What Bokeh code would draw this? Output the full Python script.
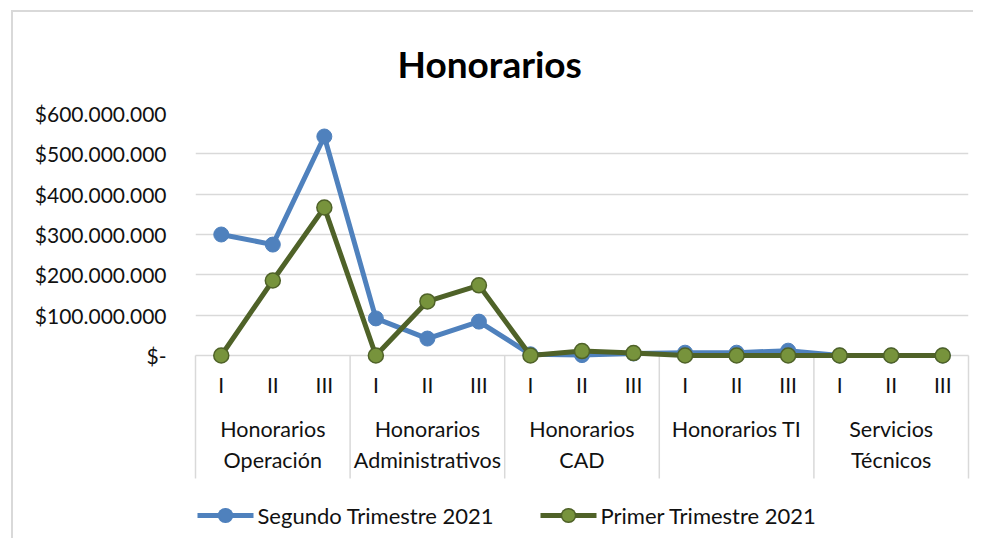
from bokeh.plotting import figure
from bokeh.models import FactorRange, FixedTicker, Title
from bokeh.core.properties import value
from bokeh.embed import file_html
from bokeh.resources import INLINE

# ---- data ----
groups = ["Honorarios\nOperación", "Honorarios\nAdministrativos", "Honorarios\nCAD",
          "Honorarios TI", "Servicios\nTécnicos"]
quarters = ["I", "II", "III"]
segundo_2021 = [300e6, 275e6, 543e6, 92e6, 42e6, 84e6, 3e6, 1e6, 5e6,
                7e6, 7e6, 12e6, 0, 0, 0]
primer_2021 = [0, 186e6, 367e6, 0, 134e6, 174e6, 0, 11e6, 6e6,
               0, 0, 0, 0, 0, 0]
y_ticks = [0, 100e6, 200e6, 300e6, 400e6, 500e6, 600e6]
y_tick_labels = ["$-", "$100.000.000", "$200.000.000", "$300.000.000",
                 "$400.000.000", "$500.000.000", "$600.000.000"]
series_names = ["Segundo Trimestre 2021", "Primer Trimestre 2021"]
title_text = "Honorarios"

factors = [(g, q) for g in groups for q in quarters]

FONT = "Lato"
BLUE = "#4f81bd"
GREEN_LINE = "#4f6228"
GREEN_FILL = "#77933c"
GRID = "#d9d9d9"
TXT = "#111111"

# ---- layout constants (pixels) ----
FRAME_W = 773
FRAME_H = 242
SEP_LEN_PX = 123          # group separators below the axis
LEG_Y_PX = 160            # legend row below the axis
LEG_X_PX = [2, 345]       # legend item starts (from frame left)
LEG_GLYPH_W = 56
LEG_LABEL_GAP = 4

Y_MAX = y_ticks[-1]
n_f = len(factors)
px_x = n_f / FRAME_W      # synthetic x units per pixel
px_y = Y_MAX / FRAME_H    # y units per pixel

p = figure(width=962, height=528,
           x_range=FactorRange(*factors, group_padding=0, range_padding=0),
           y_range=(0, Y_MAX), output_backend="svg", toolbar_location=None,
           min_border_left=182, min_border_right=7, min_border_top=101, min_border_bottom=185)
p.styles = {"margin-left": "11px", "margin-top": "10px",
            "border-left": "2px solid #d9d9d9", "border-top": "2px solid #d9d9d9"}
p.outline_line_color = None
p.background_fill_color = "white"
p.title.visible = False

t = Title(text=title_text, align="left", vertical_align="top", offset=202, text_font=FONT,
          text_font_size="37px", text_font_style="bold", text_color="black", standoff=52)
p.add_layout(t, "above")

# y axis
p.yaxis.ticker = FixedTicker(ticks=y_ticks)
p.yaxis.major_label_overrides = {int(v): s for v, s in zip(y_ticks, y_tick_labels)}
p.yaxis.axis_line_color = None
p.yaxis.major_tick_line_color = None
p.yaxis.minor_tick_line_color = None
p.yaxis.major_tick_out = 0
p.yaxis.major_tick_in = 0
p.yaxis.major_label_standoff = 29
p.yaxis.major_label_text_font = FONT
p.yaxis.major_label_text_font_size = "21px"
p.yaxis.major_label_text_color = TXT
p.ygrid.grid_line_color = GRID
p.ygrid.grid_line_width = 1.5
p.xgrid.grid_line_color = None

# x axis
xa = p.xaxis[0]
xa.axis_line_color = GRID
xa.axis_line_width = 1.5
xa.major_tick_line_color = None
xa.major_tick_out = 0
xa.major_tick_in = 0
xa.major_label_standoff = 16
xa.major_label_text_font = FONT
xa.major_label_text_font_size = "21px"
xa.major_label_text_color = TXT
xa.subgroup_text_font = FONT
xa.subgroup_text_font_size = "21px"
xa.subgroup_text_color = TXT
xa.subgroup_text_font_style = "normal"
xa.group_text_font = FONT
xa.group_text_font_size = "21.5px"
xa.group_text_color = TXT
xa.group_text_font_style = "normal"
xa.separator_line_color = None

# group separators (drawn below the axis, at the group boundaries)
n_q = len(quarters)
bounds = [i * n_q for i in range(len(groups) + 1)]
sep_low = -SEP_LEN_PX * px_y
p.segment(x0=bounds, y0=[0] * len(bounds), x1=bounds, y1=[sep_low] * len(bounds),
          line_color=GRID, line_width=1.5, level="overlay")

# series
p.line(factors, segundo_2021, line_color=BLUE, line_width=5, level="overlay")
p.scatter(factors, segundo_2021, size=15, fill_color=BLUE, line_color=BLUE, level="overlay")
p.line(factors, primer_2021, line_color=GREEN_LINE, line_width=5, level="overlay")
p.scatter(factors, primer_2021, size=15, fill_color=GREEN_FILL, line_color=GREEN_LINE,
          line_width=1.5, level="overlay")

# legend (below the category axis); markers as round-capped dots
leg_y = -LEG_Y_PX * px_y
line_cols = [BLUE, GREEN_LINE]
fill_cols = [BLUE, GREEN_FILL]
eps = 0.3 * px_x
for i, name in enumerate(series_names):
    x0 = LEG_X_PX[i] * px_x
    x1 = (LEG_X_PX[i] + LEG_GLYPH_W) * px_x
    xm = (LEG_X_PX[i] + LEG_GLYPH_W / 2) * px_x
    xt = (LEG_X_PX[i] + LEG_GLYPH_W + LEG_LABEL_GAP) * px_x
    p.segment(x0=[x0], y0=[leg_y], x1=[x1], y1=[leg_y], line_color=line_cols[i],
              line_width=5, level="overlay")
    p.segment(x0=[xm - eps], y0=[leg_y], x1=[xm + eps], y1=[leg_y], line_color=line_cols[i],
              line_width=15, line_cap="round", level="overlay")
    p.segment(x0=[xm - eps], y0=[leg_y], x1=[xm + eps], y1=[leg_y], line_color=fill_cols[i],
              line_width=12, line_cap="round", level="overlay")
    p.text(x=[xt], y=[leg_y], text=[name], text_font=value(FONT), text_font_size=value("22px"),
           text_color=TXT, text_align="left", text_baseline="middle", level="overlay")

open("out.html", "w").write(file_html(p, INLINE))
